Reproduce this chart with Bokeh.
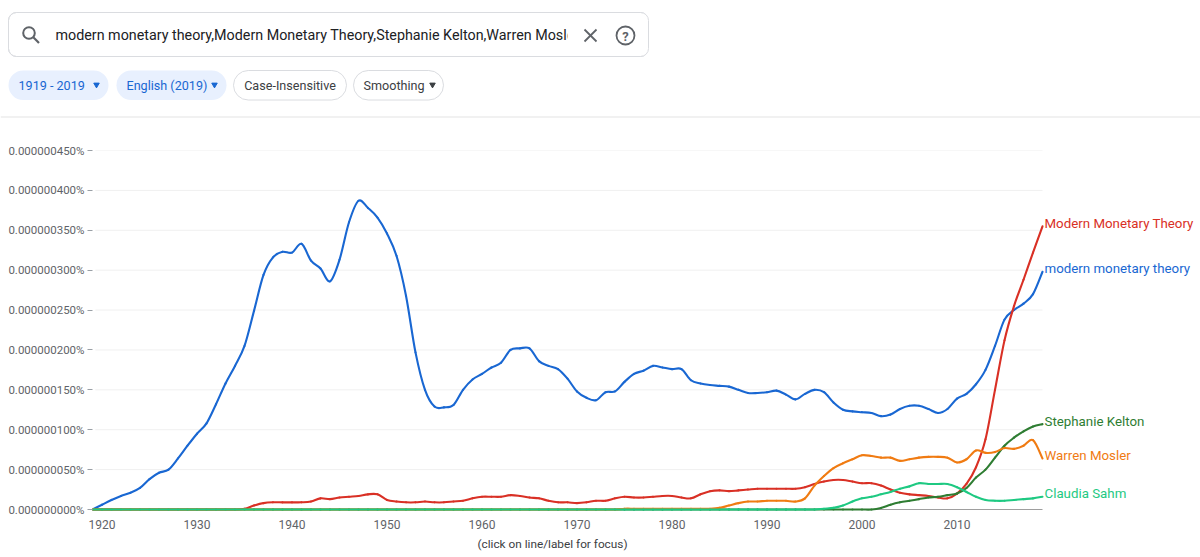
from bokeh.plotting import figure
from bokeh.models import Range1d, FixedTicker, ColumnDataSource, Title
from bokeh.layouts import column
from bokeh.core.properties import value
from bokeh.embed import file_html
from bokeh.resources import INLINE

# ---------------- data (values in units of 1e-9 %, i.e. 450 -> 0.000000450%) ----------------
years = list(range(1919, 2020))

series_names = ["modern monetary theory", "Modern Monetary Theory", "Stephanie Kelton",
                "Warren Mosler", "Claudia Sahm"]
series_colors = ["#1967d2", "#d93025", "#2e7d32", "#f07b12", "#1ec982"]

mmt_lower = [0,
    6, 12, 17, 21, 27, 38, 46, 50, 64, 80,
    95, 108, 132, 158, 180, 205, 249, 294, 316, 323,
    322, 333, 312, 302, 286, 313, 360, 387, 378, 366,
    346, 318, 268, 197, 150, 129, 128, 131, 150, 163,
    170, 178, 184, 200, 202, 202, 186, 180, 176, 164,
    148, 140, 137, 147, 148, 160, 170, 174, 180, 178,
    176, 176, 162, 158, 156, 155, 154, 150, 146, 146,
    147, 149, 144, 138, 145, 150, 147, 134, 125, 123,
    122, 121, 117, 119, 126, 130, 130, 126, 121, 126,
    139, 145, 157, 175, 205, 238, 250, 258, 270, 298]

mmt_title = [0,
    0, 0, 0, 0, 0, 0, 0, 0, 0, 0,
    0, 0, 0, 0, 0, 1, 5, 8, 9, 9,
    9, 9, 10, 14, 13, 15, 16, 17, 19, 19,
    12, 10, 9, 9, 10, 9, 9, 10, 11, 14,
    16, 16, 16, 18, 17, 15, 14, 11, 9, 9,
    8, 9, 11, 11, 14, 16, 15, 15, 16, 17,
    17, 15, 14, 19, 23, 24, 23, 24, 25, 26,
    26, 26, 26, 26, 28, 32, 35, 37, 37, 35,
    33, 33, 30, 25, 21, 19, 18, 17, 15, 14,
    20, 32, 53, 88, 150, 212, 255, 288, 322, 355]

kelton = [0,
    0, 0, 0, 0, 0, 0, 0, 0, 0, 0,
    0, 0, 0, 0, 0, 0, 0, 0, 0, 0,
    0, 0, 0, 0, 0, 0, 0, 0, 0, 0,
    0, 0, 0, 0, 0, 0, 0, 0, 0, 0,
    0, 0, 0, 0, 0, 0, 0, 0, 0, 0,
    0, 0, 0, 0, 0, 0, 0, 0, 0, 0,
    0, 0, 0, 0, 0, 0, 0, 0, 0, 0,
    0, 0, 0, 0, 0, 0, 0, 0, 0, 0,
    0, 0, 2, 6, 9, 11, 13, 15, 16, 18,
    20, 27, 40, 50, 65, 80, 90, 98, 104, 107]

mosler = [0,
    0, 0, 0, 0, 0, 0, 0, 0, 0, 0,
    0, 0, 0, 0, 0, 0, 0, 0, 0, 0,
    0, 0, 0, 0, 0, 0, 0, 0, 0, 0,
    0, 0, 0, 0, 0, 0, 0, 0, 0, 0,
    0, 0, 0, 0, 0, 0, 0, 0, 0, 0,
    0, 0, 0, 0, 0, 1, 1, 1, 1, 1,
    1, 1, 1, 1, 1, 2, 5, 8, 10, 10,
    11, 11, 11, 10, 14, 30, 42, 52, 58, 63,
    68, 67, 65, 65, 61, 63, 65, 66, 66, 65,
    59, 63, 74, 71, 72, 77, 76, 80, 87, 64]

sahm = [0,
    0, 0, 0, 0, 0, 0, 0, 0, 0, 0,
    0, 0, 0, 0, 0, 0, 0, 0, 0, 0,
    0, 0, 0, 0, 0, 0, 0, 0, 0, 0,
    0, 0, 0, 0, 0, 0, 0, 0, 0, 0,
    0, 0, 0, 0, 0, 0, 0, 0, 0, 0,
    0, 0, 0, 0, 0, 0, 0, 0, 0, 0,
    0, 0, 0, 0, 0, 0, 0, 0, 0, 0,
    0, 0, 0, 0, 0, 0, 1, 2, 5, 10,
    14, 16, 19, 22, 26, 29, 33, 32, 32, 32,
    28, 22, 16, 12, 11, 11, 12, 13, 14, 16]

series_values = [mmt_lower, mmt_title, kelton, mosler, sahm]

y_ticks = [0, 50, 100, 150, 200, 250, 300, 350, 400, 450]
y_tick_labels = ["0.000000000%", "0.000000050%", "0.000000100%", "0.000000150%",
                 "0.000000200%", "0.000000250%", "0.000000300%", "0.000000350%",
                 "0.000000400%", "0.000000450%"]
x_ticks = [1920, 1930, 1940, 1950, 1960, 1970, 1980, 1990, 2000, 2010]

chip_labels = ["1919 - 2019", "English (2019)", "Case-Insensitive", "Smoothing"]
focus_note = "(click on line/label for focus)"

FONT = value("Roboto")
GREY = "#5f6368"

# ---------------- header (search box + chips) ----------------
W = 1200
HH = 120
h = figure(width=W, height=HH, x_range=Range1d(0, W), y_range=Range1d(HH, 0),
           output_backend="svg", toolbar_location=None, min_border=0,
           x_axis_location=None, y_axis_location=None)
h.frame_align = False
h.grid.visible = False
h.outline_line_color = None

h.quad(left=[8], right=[648], top=[12], bottom=[56], fill_color="white",
       line_color="#dadce0", line_width=1, border_radius=8)
query = ",".join(series_names)
h.text(x=[55], y=[34.5], text=[query], text_font=FONT, text_font_size="14.3px",
       text_color="#202124", text_baseline="middle", text_align="left")
# input overflow cover
h.quad(left=[567], right=[1200], top=[13], bottom=[55], fill_color="white", line_color=None)
h.quad(left=[8], right=[648], top=[12], bottom=[56], fill_color=None,
       line_color="#dadce0", line_width=1, border_radius=8)
# magnifier icon
h.circle(x=[28.5], y=[32.5], radius=5.8, fill_color=None, line_color=GREY, line_width=2)
h.segment(x0=[32.8], y0=[36.8], x1=[38.5], y1=[42.5], line_color=GREY, line_width=2.2)
# clear icon
h.segment(x0=[584, 596], y0=[29, 29], x1=[596, 584], y1=[41, 41], line_color=GREY, line_width=1.8)
# help icon
h.circle(x=[625], y=[35], radius=9, fill_color=None, line_color=GREY, line_width=1.8)
h.text(x=[625], y=[35.5], text=["?"], text_font=FONT, text_font_size="13px",
       text_font_style="bold", text_color=GREY, text_baseline="middle", text_align="center")

# chips
chip_left = [8, 116, 233, 353]
chip_right = [108, 226, 346, 443]
chip_fill = ["#e8f0fe", "#e8f0fe", "white", "white"]
chip_line = [None, None, "#dadce0", "#dadce0"]
chip_text_x = [18, 126, 289.5, 363]
chip_align = ["left", "left", "center", "left"]
chip_text_color = ["#1967d2", "#1967d2", "#3c4043", "#3c4043"]
for i in range(4):
    h.quad(left=[chip_left[i]], right=[chip_right[i]], top=[70], bottom=[99.5],
           fill_color=chip_fill[i], line_color=chip_line[i], line_width=1, border_radius=15)
    h.text(x=[chip_text_x[i]], y=[85], text=[chip_labels[i]], text_font=FONT,
           text_font_size="12.6px", text_color=chip_text_color[i],
           text_baseline="middle", text_align=chip_align[i])
h.scatter(x=[96, 214], y=[84.2, 84.2], marker="inverted_triangle", size=5.5,
          fill_color="#1967d2", line_color="#1967d2")
h.scatter(x=[432], y=[84.2], marker="inverted_triangle", size=5.5,
          fill_color="#3c4043", line_color="#3c4043")
# separator
h.segment(x0=[0], y0=[116.5], x1=[W], y1=[116.5], line_color="#e3e3e3", line_width=1)

# ---------------- chart ----------------
CH = 557 - HH
X0, X1 = years[0], years[-1]
px_per_year = 9.5
frame_left = 92
x_end = X0 + (W - frame_left) / px_per_year   # frame runs to the right edge so end labels are not clipped
c = figure(width=W, height=CH, x_range=Range1d(X0, x_end), y_range=Range1d(-2.5, 450),
           output_backend="svg", toolbar_location=None,
           min_border_left=frame_left, min_border_right=0, min_border_top=30, min_border_bottom=46)
c.frame_align = False
c.outline_line_color = None
c.grid.visible = False

c.yaxis.ticker = FixedTicker(ticks=y_ticks)
c.yaxis.major_label_overrides = {t: lab for t, lab in zip(y_ticks, y_tick_labels)}
c.yaxis.axis_line_color = None
c.yaxis.major_tick_in = 0
c.yaxis.major_tick_out = 5
c.yaxis.major_tick_line_color = "#9aa0a6"
c.yaxis.minor_tick_line_color = None
c.yaxis.major_label_standoff = 3
c.yaxis.major_label_text_font = "Roboto"
c.yaxis.major_label_text_font_size = "11.5px"
c.yaxis.major_label_text_color = GREY

c.xaxis.ticker = FixedTicker(ticks=x_ticks)
c.xaxis.axis_line_color = None
c.xaxis.major_tick_line_color = None
c.xaxis.minor_tick_line_color = None
c.xaxis.major_label_standoff = 2
c.xaxis.major_label_text_font = "Roboto"
c.xaxis.major_label_text_font_size = "12px"
c.xaxis.major_label_text_color = GREY

# caption under the years, left-aligned with an offset so it is centred under 1919-2019
c.add_layout(Title(text=focus_note, align="left", offset=385, text_font="Roboto",
                   text_font_size="11.8px", text_font_style="normal", text_color="#3c4043",
                   standoff=6), "below")

# horizontal grid lines and zero axis line, limited to the data years
c.segment(x0=[X0 + 0.3] * len(y_ticks[1:]), y0=y_ticks[1:], x1=[X1] * len(y_ticks[1:]),
          y1=y_ticks[1:], line_color="#f0f0f0", line_width=1)
c.segment(x0=[X0], y0=[0], x1=[X1], y1=[0], line_color="#9e9e9e", line_width=1)

# smooth curves (Catmull-Rom -> cubic Bezier) through the yearly values
def bezier_parts(xs, ys):
    n = len(xs)
    x0s, y0s, x1s, y1s, cx0, cy0, cx1, cy1 = [], [], [], [], [], [], [], []
    for i in range(n - 1):
        xp, yp = (xs[i - 1], ys[i - 1]) if i > 0 else (xs[i], ys[i])
        xn, yn = (xs[i + 2], ys[i + 2]) if i + 2 < n else (xs[i + 1], ys[i + 1])
        x0s.append(xs[i]); y0s.append(ys[i]); x1s.append(xs[i + 1]); y1s.append(ys[i + 1])
        cx0.append(xs[i] + (xs[i + 1] - xp) / 6.0); cy0.append(ys[i] + (ys[i + 1] - yp) / 6.0)
        cx1.append(xs[i + 1] - (xn - xs[i]) / 6.0); cy1.append(ys[i + 1] - (yn - ys[i]) / 6.0)
    return dict(x0=x0s, y0=y0s, x1=x1s, y1=y1s, cx0=cx0, cy0=cy0, cx1=cx1, cy1=cy1)

for vals, col in zip(series_values, series_colors):
    src = ColumnDataSource(bezier_parts(years, vals))
    c.bezier(x0="x0", y0="y0", x1="x1", y1="y1", cx0="cx0", cy0="cy0", cx1="cx1", cy1="cy1",
             source=src, line_color=col, line_width=2.1, line_cap="round")

ends = [v[-1] for v in series_values]
c.text(x=[X1] * len(series_names), y=ends, text=series_names, x_offset=2, y_offset=-3,
       text_baseline="middle", text_align="left", text_font=FONT,
       text_font_size="13.3px", text_color=series_colors)

layout = column(h, c, spacing=0)
open("out.html", "w").write(file_html(layout, INLINE))
